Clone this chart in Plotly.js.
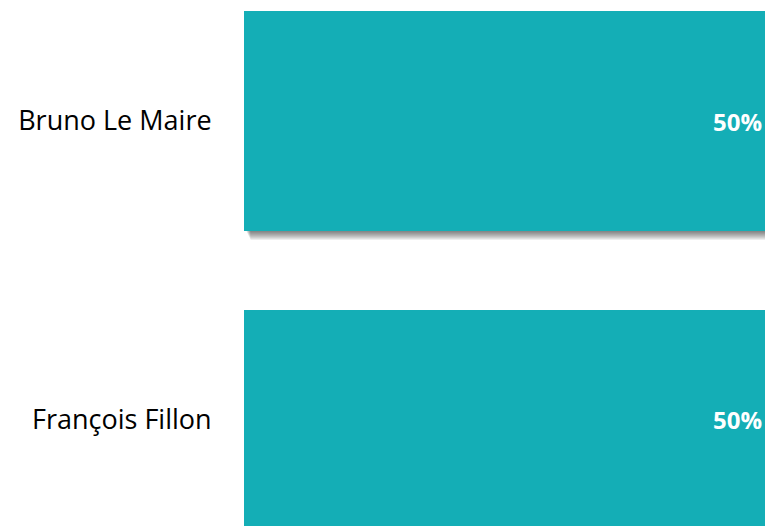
<!DOCTYPE html>
<html>
<head>
<meta charset="utf-8">
<script src="https://cdn.plot.ly/plotly-3.0.1.min.js"></script>
<style>html,body{margin:0;padding:0;background:#fff;}#chart{width:765px;height:526px;}</style>
</head>
<body>
<div id="chart"></div>
<script>
var categories = ["Bruno Le Maire", "François Fillon"];
var values = [50, 50];
var labels = ["50%", "50%"];

var barColor = "#14AEB6";
var barWidth = 0.736;
var shadowLayers = [1, 2, 3, 4, 5, 6, 7, 8, 9];

var traces = [];
shadowLayers.forEach(function (px) {
  traces.push({
    type: "bar",
    orientation: "h",
    y: categories,
    x: values,
    base: 50 * (2 + px * 0.5) / 521,
    width: barWidth,
    offset: -barWidth / 2 + px / 299,
    marker: { color: "rgba(0,0,0,0.065)" },
    hoverinfo: "skip",
    showlegend: false
  });
});
traces.push({
  type: "bar",
  orientation: "h",
  y: categories,
  x: values,
  width: barWidth,
  marker: { color: barColor },
  text: labels,
  textposition: "inside",
  insidetextanchor: "end",
  textfont: { family: "Open Sans, sans-serif", size: 24, color: "#ffffff", weight: "bold" },
  showlegend: false,
  cliponaxis: false
});

var layout = {
  width: 765,
  height: 526,
  margin: { l: 244, r: 0, t: 0, b: 0, pad: 0 },
  paper_bgcolor: "#ffffff",
  plot_bgcolor: "#ffffff",
  barmode: "overlay",
  showlegend: false,
  xaxis: { range: [0, 50], visible: false, fixedrange: true },
  yaxis: {
    range: [1.355, -0.405],
    showgrid: false,
    zeroline: false,
    showline: false,
    ticks: "outside",
    ticklen: 26,
    tickcolor: "rgba(0,0,0,0)",
    tickfont: { family: "Open Sans, sans-serif", size: 27, color: "#000000" }
  },
  font: { family: "Open Sans, sans-serif" }
};

Plotly.newPlot("chart", traces, layout, { displayModeBar: false, staticPlot: true });
</script>
</body>
</html>
